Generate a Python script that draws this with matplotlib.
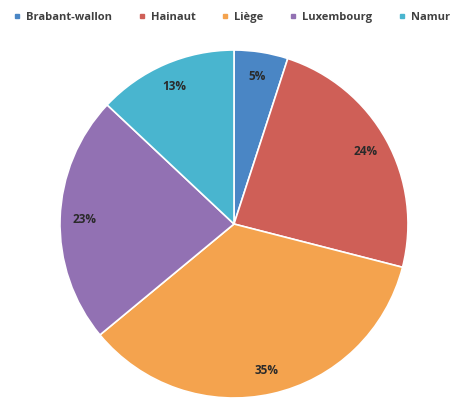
import matplotlib
matplotlib.use("Agg")
import matplotlib.pyplot as plt
from matplotlib.lines import Line2D

plt.rcParams['font.family'] = ['Open Sans', 'DejaVu Sans']

# répartition par province
provinces = ["Brabant-wallon", "Hainaut", "Liège", "Luxembourg", "Namur"]
parts = [5, 24, 35, 23, 13]
couleurs = ["#4A86C5", "#CF5F57", "#F4A34E", "#9271B3", "#49B5CF"]

fig = plt.figure(figsize=(4.64, 4.03), dpi=100)
ax = fig.add_axes([0.1293, 0.0124, 0.75, 0.8635])

wedges, texts, autotexts = ax.pie(
    parts, colors=couleurs, startangle=90, counterclock=False,
    autopct='%d%%', pctdistance=0.86, radius=1.0,
    wedgeprops=dict(edgecolor="white", linewidth=1.2),
    textprops=dict(fontsize=8.5, fontweight="bold", color="#2A2A2A"),
)
ax.set_xlim(-1, 1)
ax.set_ylim(-1, 1)
ax.set_aspect("equal")
ax.axis("off")

# légende en haut
handles = [Line2D([0], [0], marker="s", linestyle="", markersize=3.5,
                  markerfacecolor=c, markeredgecolor=c) for c in couleurs]
fig.legend(handles, provinces, loc="upper center", bbox_to_anchor=(0.5, 0.995),
           ncol=5, frameon=False, handlelength=0.6,
           handletextpad=0.5, columnspacing=2.4,
           prop=dict(weight="bold", size=8),
           labelcolor="#404040")

fig.savefig("out.png", dpi=100)
